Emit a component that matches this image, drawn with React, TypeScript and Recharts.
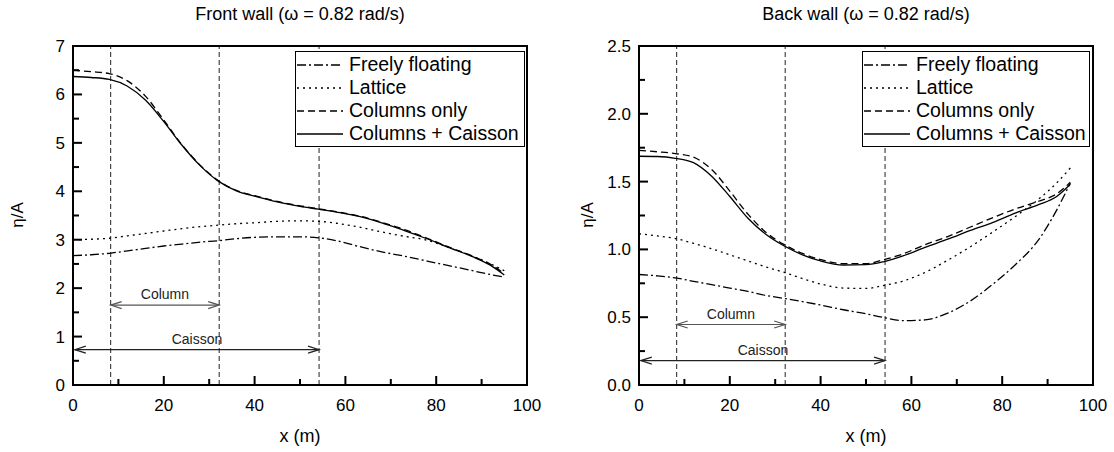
import React from 'react';
import { LineChart, Line, XAxis, YAxis, ReferenceLine } from 'recharts';

const FONT = '"Liberation Sans", Arial, Helvetica, sans-serif';

const xs = [0, 4, 8, 12, 16, 20, 24, 28, 32, 36, 40, 45, 50, 54, 58, 63, 68, 73, 78, 83, 88, 92, 95];

// Front wall
const frontFreely = [2.67, 2.69, 2.72, 2.77, 2.82, 2.87, 2.91, 2.95, 2.98, 3.02, 3.05, 3.06, 3.06, 3.04, 2.98, 2.86, 2.75, 2.66, 2.56, 2.46, 2.36, 2.28, 2.23];
const frontLattice = [3.0, 3.01, 3.03, 3.08, 3.13, 3.18, 3.23, 3.27, 3.3, 3.33, 3.35, 3.38, 3.39, 3.38, 3.34, 3.26, 3.16, 3.07, 2.99, 2.83, 2.66, 2.5, 2.36];
const frontColumns = [6.5, 6.47, 6.43, 6.28, 5.96, 5.47, 4.96, 4.54, 4.22, 4.02, 3.91, 3.79, 3.7, 3.64, 3.58, 3.49, 3.36, 3.21, 3.03, 2.84, 2.66, 2.49, 2.3];
const frontCaisson = [6.37, 6.35, 6.31, 6.17, 5.88, 5.44, 4.95, 4.53, 4.21, 4.01, 3.9, 3.78, 3.69, 3.63, 3.57, 3.48, 3.35, 3.19, 3.02, 2.83, 2.65, 2.47, 2.27];

// Back wall
const backFreely = [0.815, 0.805, 0.79, 0.765, 0.74, 0.715, 0.69, 0.66, 0.638, 0.615, 0.59, 0.555, 0.525, 0.497, 0.475, 0.48, 0.53, 0.62, 0.745, 0.89, 1.07, 1.29, 1.49];
const backLattice = [1.115, 1.1, 1.08, 1.045, 1.005, 0.96, 0.915, 0.87, 0.83, 0.785, 0.745, 0.715, 0.712, 0.735, 0.765, 0.83, 0.92, 1.02, 1.13, 1.245, 1.37, 1.49, 1.6];
const backColumns = [1.73, 1.72, 1.707, 1.68, 1.59, 1.43, 1.26, 1.125, 1.035, 0.97, 0.925, 0.895, 0.895, 0.925, 0.965, 1.035, 1.095, 1.165, 1.235, 1.3, 1.355, 1.41, 1.495];
const backCaisson = [1.687, 1.685, 1.672, 1.64, 1.54, 1.39, 1.23, 1.11, 1.025, 0.96, 0.915, 0.885, 0.887, 0.91, 0.95, 1.015, 1.075, 1.14, 1.2, 1.27, 1.33, 1.39, 1.48];

const xTicks = [0, 10, 20, 30, 40, 50, 60, 70, 80, 90, 100];
const xMajor = [0, 20, 40, 60, 80, 100];
const frontYTicks = [0, 0.5, 1, 1.5, 2, 2.5, 3, 3.5, 4, 4.5, 5, 5.5, 6, 6.5, 7];
const frontYMajor = [0, 1, 2, 3, 4, 5, 6, 7];
const backYTicks = [0, 0.25, 0.5, 0.75, 1, 1.25, 1.5, 1.75, 2, 2.25, 2.5];
const backYMajor = [0, 0.5, 1, 1.5, 2, 2.5];

const sectionLines = [8.3, 32.2, 54.2];
const columnSpan = [8.3, 32.2];
const caissonSpan = [0.4, 54.2];
const frontArrowY = [1.65, 0.73];
const backArrowY = [0.446, 0.18];

const seriesNames = ['Freely floating', 'Lattice', 'Columns only', 'Columns + Caisson'];
const seriesKeys = ['ff', 'la', 'co', 'cc'];
const seriesDash = ['9 3 2 3', '2 4', '7 4', undefined];

function build(a: number[], b: number[], c: number[], d: number[]) {
  return xs.map((x, i) => ({ x, ff: a[i], la: b[i], co: c[i], cc: d[i] }));
}

const frontData = build(frontFreely, frontLattice, frontColumns, frontCaisson);
const backData = build(backFreely, backLattice, backColumns, backCaisson);

const XTick = (props: any) => {
  const { x, y, payload } = props;
  const major = xMajor.includes(payload.value);
  const len = major ? 9 : 6;
  return (
    <g>
      <rect x={x - 1} y={y - len} width={2} height={len} fill="#000" />
      {major && (
        <text x={x} y={y + 14} dy="0.71em" textAnchor="middle" fontSize={17} fontFamily={FONT} fill="#000">
          {payload.value}
        </text>
      )}
    </g>
  );
};

const makeYTick = (majors: number[], fmt: (v: number) => string) => (props: any) => {
  const { x, y, payload } = props;
  const major = majors.includes(payload.value);
  const len = major ? 9 : 6;
  return (
    <g>
      <rect x={x} y={y - 1} width={len} height={2} fill="#000" />
      {major && (
        <text x={x - 8} y={y} dy="0.355em" textAnchor="end" fontSize={17} fontFamily={FONT} fill="#000">
          {fmt(payload.value)}
        </text>
      )}
    </g>
  );
};

const arrowShape = (label: string, color: string) => (props: any) => {
  const { x1, y1, x2, y2 } = props;
  const h = 11;
  const w = 3.5;
  return (
    <g>
      <line x1={x1} y1={y1} x2={x2} y2={y2} stroke={color} strokeWidth={1.2} />
      <polyline points={`${x1 + h},${y1 - w} ${x1},${y1} ${x1 + h},${y1 + w}`} fill="none" stroke={color} strokeWidth={1.2} />
      <polyline points={`${x2 - h},${y2 - w} ${x2},${y2} ${x2 - h},${y2 + w}`} fill="none" stroke={color} strokeWidth={1.2} />
      <text x={(x1 + x2) / 2} y={y1 - 6} textAnchor="middle" fontSize={14} fontFamily={FONT} fill="#222">
        {label}
      </text>
    </g>
  );
};

const LegendBox = ({ left, width }: { left: number; width: number }) => (
  <div
    style={{
      position: 'absolute',
      left,
      top: 51,
      width,
      height: 96,
      border: '1.5px solid #000',
      boxSizing: 'border-box',
      background: '#fff',
      fontFamily: FONT,
      fontSize: 19.5,
      paddingTop: 1,
      overflow: 'hidden',
    }}
  >
    {seriesNames.map((n, i) => (
      <div key={n} style={{ display: 'flex', alignItems: 'center', height: 23, whiteSpace: 'nowrap' }}>
        <svg width={48} height={10} style={{ marginLeft: 1, marginRight: 4, flex: 'none' }}>
          <line x1={0} x2={46} y1={5} y2={5} stroke="#000" strokeWidth={1.3} strokeDasharray={seriesDash[i]} />
        </svg>
        <span>{n}</span>
      </div>
    ))}
  </div>
);

type PanelProps = {
  data: any[];
  yMax: number;
  yTicks: number[];
  yMajor: number[];
  fmt: (v: number) => string;
  yAxisWidth: number;
  rightMargin: number;
  arrowY: number[];
  title: string;
  yLabelX: number;
  legendLeft: number;
  legendWidth: number;
};

const TOP = 46;
const XH = 67;

const Panel = (p: PanelProps) => {
  const W = 557;
  const H = 452;
  const plotLeft = p.yAxisWidth;
  const plotRight = W - p.rightMargin;
  const cx = (plotLeft + plotRight) / 2;
  return (
    <div style={{ position: 'relative', width: W, height: H }}>
      <LineChart width={W} height={H} data={p.data} margin={{ top: TOP, right: p.rightMargin, bottom: 0, left: 0 }}>
        <XAxis
          dataKey="x"
          type="number"
          domain={[0, 100]}
          ticks={xTicks}
          interval={0}
          height={XH}
          axisLine={{ stroke: '#000', strokeWidth: 2 }}
          tickLine={false}
          tickSize={0}
          tickMargin={0}
          tick={<XTick />}
          allowDataOverflow
        />
        <YAxis
          type="number"
          domain={[0, p.yMax]}
          ticks={p.yTicks}
          interval={0}
          width={p.yAxisWidth}
          axisLine={{ stroke: '#000', strokeWidth: 2 }}
          tickLine={false}
          tickSize={0}
          tickMargin={0}
          tick={makeYTick(p.yMajor, p.fmt)}
          allowDataOverflow
        />
        <XAxis xAxisId="top" orientation="top" type="number" domain={[0, 100]} height={0} tick={false} tickLine={false} axisLine={{ stroke: '#000', strokeWidth: 2 }} />
        <YAxis yAxisId="right" orientation="right" type="number" domain={[0, p.yMax]} width={0} tick={false} tickLine={false} axisLine={{ stroke: '#000', strokeWidth: 2 }} />
        {sectionLines.map((v) => (
          <ReferenceLine key={'s' + v} x={v} stroke="#222" strokeWidth={1} strokeDasharray="5 3" />
        ))}
        <ReferenceLine
          segment={[{ x: columnSpan[0], y: p.arrowY[0] }, { x: columnSpan[1], y: p.arrowY[0] }]}
          shape={arrowShape('Column', '#555')}
        />
        <ReferenceLine
          segment={[{ x: caissonSpan[0], y: p.arrowY[1] }, { x: caissonSpan[1], y: p.arrowY[1] }]}
          shape={arrowShape('Caisson', '#222')}
        />
        {seriesKeys.map((k, i) => (
          <Line
            key={k}
            dataKey={k}
            name={seriesNames[i]}
            type="monotone"
            stroke="#000"
            strokeWidth={1.3}
            strokeDasharray={seriesDash[i]}
            dot={false}
            activeDot={false}
            isAnimationActive={false}
          />
        ))}
      </LineChart>
      <div
        style={{
          position: 'absolute',
          left: plotLeft - 1,
          top: TOP - 1,
          width: plotRight - plotLeft + 2,
          height: H - XH - TOP + 2,
          border: '2px solid #000',
          boxSizing: 'border-box',
          pointerEvents: 'none',
        }}
      />
      <div
        style={{
          position: 'absolute',
          left: cx - 160,
          width: 320,
          top: 4,
          textAlign: 'center',
          fontFamily: FONT,
          fontSize: 18,
        }}
      >
        {p.title}
      </div>
      <div
        style={{
          position: 'absolute',
          left: cx - 50,
          width: 100,
          top: 426,
          textAlign: 'center',
          fontFamily: FONT,
          fontSize: 18,
        }}
      >
        x (m)
      </div>
      <div
        style={{
          position: 'absolute',
          left: p.yLabelX - 30,
          width: 60,
          top: 205,
          textAlign: 'center',
          fontFamily: FONT,
          fontSize: 17,
          transform: 'rotate(-90deg)',
        }}
      >
        η/A
      </div>
      <LegendBox left={p.legendLeft} width={p.legendWidth} />
    </div>
  );
};

export default function App() {
  return (
    <div style={{ position: 'absolute', left: 0, top: 0, width: 1114, height: 452, background: '#fff', display: 'flex' }}>
      <Panel
        data={frontData}
        yMax={7}
        yTicks={frontYTicks}
        yMajor={frontYMajor}
        fmt={(v) => String(v)}
        yAxisWidth={73}
        rightMargin={30}
        arrowY={frontArrowY}
        title="Front wall (ω = 0.82 rad/s)"
        yLabelX={18}
        legendLeft={295}
        legendWidth={230}
      />
      <Panel
        data={backData}
        yMax={2.5}
        yTicks={backYTicks}
        yMajor={backYMajor}
        fmt={(v) => v.toFixed(1)}
        yAxisWidth={82}
        rightMargin={21}
        arrowY={backArrowY}
        title="Back wall (ω = 0.82 rad/s)"
        yLabelX={31}
        legendLeft={305}
        legendWidth={228}
      />
    </div>
  );
}
